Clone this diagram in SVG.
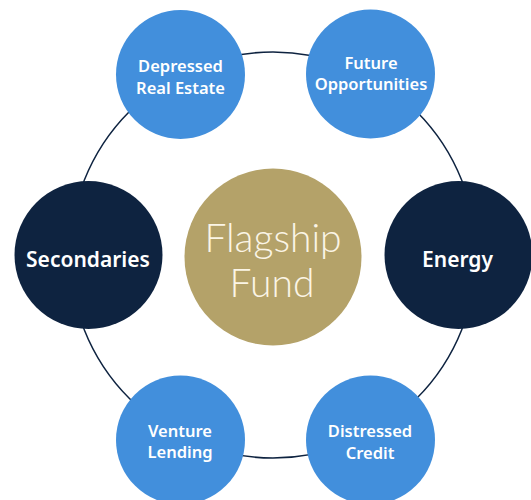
<svg xmlns="http://www.w3.org/2000/svg" width="531" height="500" viewBox="0 0 531 500">
<style>
.blue{fill:#428fdc}
.navy{fill:#0e2340}
.gold{fill:#b4a269}
.t{font-family:"Noto Sans","Open Sans",sans-serif;font-weight:600;fill:#ffffff;text-anchor:middle}
.s{font-size:16.5px}
.l{font-size:21px}
.f{font-family:"Lato","Open Sans",sans-serif;font-weight:300;font-size:39px;fill:#fbf5e6;text-anchor:middle}
</style>
<rect width="531" height="500" fill="#ffffff"/>
<g id="connectors">
<circle cx="273" cy="255" r="203" fill="none" stroke="#0e2340" stroke-width="1.5"/>
</g>
<g id="center">
<circle class="gold" cx="273" cy="257" r="88.5"/>
<text class="f" x="273" y="252">Flagship</text>
<text class="f" x="272" y="297">Fund</text>
</g>
<g id="depressed">
<circle class="blue" cx="180.5" cy="74.5" r="64.5"/>
<text class="t s" x="180.5" y="72">Depressed</text>
<text class="t s" x="180.5" y="94">Real Estate</text>
</g>
<g id="future">
<circle class="blue" cx="370.5" cy="74" r="64.5"/>
<text class="t s" x="371" y="69">Future</text>
<text class="t s" x="371" y="90">Opportunities</text>
</g>
<g id="secondaries">
<circle class="navy" cx="88.5" cy="255" r="74"/>
<text class="t l" x="88" y="267">Secondaries</text>
</g>
<g id="energy">
<circle class="navy" cx="458.5" cy="255" r="74"/>
<text class="t l" x="457.5" y="267">Energy</text>
</g>
<g id="venture">
<circle class="blue" cx="180.5" cy="440" r="64.5"/>
<text class="t s" x="180" y="437">Venture</text>
<text class="t s" x="180" y="458">Lending</text>
</g>
<g id="distressed">
<circle class="blue" cx="370.5" cy="440" r="64.5"/>
<text class="t s" x="370" y="437">Distressed</text>
<text class="t s" x="370" y="459">Credit</text>
</g>
</svg>
